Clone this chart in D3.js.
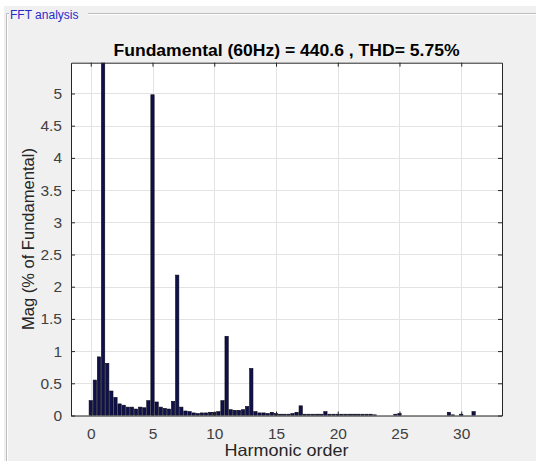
<!DOCTYPE html>
<html>
<head>
<meta charset="utf-8">
<script src="https://cdn.jsdelivr.net/npm/d3@7"></script>
<style>
  html, body { margin: 0; padding: 0; background: #ffffff; }
  svg { display: block; }
  text { font-family: "Liberation Sans", Arial, Helvetica, sans-serif; }
</style>
</head>
<body>
<svg id="chart" width="536" height="461"></svg>
<script>
// Spectrum bins are 20 Hz wide, i.e. one third of a harmonic order (60 Hz fundamental).
const binsPerHarmonic = 3;

// Magnitude of each bin in % of the fundamental, starting at DC.
const magnitude = [
  0.23, 0.55, 0.91, 100.0, 0.81, 0.38, 0.28, 0.18, 0.16, 0.13,   // 0 .. 3
  0.13, 0.10, 0.13, 0.12, 0.23, 4.98, 0.21, 0.13, 0.11, 0.10,    // 3.33 .. 6.33
  0.22, 2.18, 0.13, 0.07, 0.06, 0.04, 0.03, 0.04, 0.04, 0.05,    // 6.67 .. 9.67
  0.05, 0.06, 0.23, 1.23, 0.09, 0.08, 0.08, 0.09, 0.14, 0.73,    // 10 .. 13
  0.06, 0.04, 0.04, 0.03, 0.05, 0.03, 0.02, 0.02, 0.02, 0.03,    // 13.33 .. 16.33
  0.05, 0.15, 0.02, 0.02, 0.02, 0.02, 0.02, 0.06, 0.02, 0.02,    // 16.67 .. 19.67
  0.02, 0.02, 0.02, 0.02, 0.02, 0.02, 0.02, 0.02, 0.02, 0.01,    // 20 .. 23
  0.00, 0.00, 0.00, 0.00, 0.02, 0.03, 0.00, 0.00, 0.00, 0.00,    // 23.33 .. 26.33
  0.00, 0.00, 0.00, 0.00, 0.00, 0.00, 0.00, 0.05, 0.01, 0.00,    // 26.67 .. 29.67
  0.02, 0.00, 0.00, 0.06, 0.00, 0.00, 0.00, 0.00, 0.00, 0.00     // 30 .. 33
];

const xTicks = [0, 5, 10, 15, 20, 25, 30];
const yTicks = [0, 0.5, 1, 1.5, 2, 2.5, 3, 3.5, 4, 4.5, 5];
const xDomain = [-1.6, 33.3];
const yDomain = [0, 5.478];

const panelLabel = "FFT analysis";
const titleText = "Fundamental (60Hz) = 440.6 , THD= 5.75%";
const xLabel = "Harmonic order";
const yLabel = "Mag (% of Fundamental)";

const W = 536, H = 461;
const plot = { left: 71, right: 502, top: 62.7, bottom: 415.5 };

const svg = d3.select("#chart");

// Window background and etched group-box frame
svg.append("rect").attr("x", 0).attr("y", 0).attr("width", W).attr("height", H).attr("fill", "#ffffff");
svg.append("rect").attr("x", 4).attr("y", 6).attr("width", W - 4).attr("height", H - 6).attr("fill", "#f0f0f0");

const frame = svg.append("g").attr("fill", "none");
const framePath = (o) => `M${88} ${13.5 + o} H${W} M${9} ${13.5 + o} H${6.5 + o} V${H}`;
frame.append("path").attr("d", framePath(0)).attr("stroke", "#bdbdbd").attr("stroke-width", 1);
frame.append("path").attr("d", framePath(1)).attr("stroke", "#ffffff").attr("stroke-width", 1);

svg.append("text")
  .attr("x", 10).attr("y", 18.5)
  .attr("font-size", 12)
  .attr("fill", "#2a2ac8")
  .text(panelLabel);

// Scales
const x = d3.scaleLinear().domain(xDomain).range([plot.left, plot.right]);
const y = d3.scaleLinear().domain(yDomain).range([plot.bottom, plot.top]);

// Axes area
svg.append("rect")
  .attr("x", plot.left).attr("y", plot.top)
  .attr("width", plot.right - plot.left).attr("height", plot.bottom - plot.top)
  .attr("fill", "#ffffff");

// Grid
const grid = svg.append("g").attr("stroke", "#e3e3e3").attr("stroke-width", 1);
grid.selectAll("line.gx").data(xTicks).join("line")
  .attr("x1", d => Math.round(x(d)) + 0.5).attr("x2", d => Math.round(x(d)) + 0.5)
  .attr("y1", plot.top).attr("y2", plot.bottom);
grid.selectAll("line.gy").data(yTicks).join("line")
  .attr("y1", d => Math.round(y(d)) + 0.5).attr("y2", d => Math.round(y(d)) + 0.5)
  .attr("x1", plot.left).attr("x2", plot.right);

// Bars, clipped to the axes box
svg.append("clipPath").attr("id", "plotClip")
  .append("rect")
  .attr("x", plot.left).attr("y", plot.top)
  .attr("width", plot.right - plot.left).attr("height", plot.bottom - plot.top);

const bins = magnitude.map((v, i) => ({ order: i / binsPerHarmonic, value: v }));
const barW = x(0.8 / binsPerHarmonic) - x(0);

svg.append("g").attr("clip-path", "url(#plotClip)")
  .selectAll("rect").data(bins).join("rect")
  .attr("x", d => x(d.order) - barW / 2)
  .attr("width", barW)
  .attr("y", d => y(d.value))
  .attr("height", d => Math.max(0, y(0) - y(d.value)))
  .attr("fill", "#10104a")
  .attr("stroke", "#050514")
  .attr("stroke-width", 0.6);

// Axes (box with inward ticks on all four sides)
const axisColor = "#262626";
const tickLen = 4;

const bottomAxis = d3.axisBottom(x).tickValues(xTicks).tickSizeInner(-tickLen).tickSizeOuter(0).tickPadding(12).tickFormat(d3.format("d"));
const leftAxis = d3.axisLeft(y).tickValues(yTicks).tickSizeInner(-tickLen).tickSizeOuter(0).tickPadding(9).tickFormat(d => String(d));
const topAxis = d3.axisTop(x).tickValues(xTicks).tickSizeInner(-tickLen).tickSizeOuter(0).tickFormat("");
const rightAxis = d3.axisRight(y).tickValues(yTicks).tickSizeInner(-tickLen).tickSizeOuter(0).tickFormat("");

function styleAxis(g) {
  g.select(".domain").attr("stroke", axisColor).attr("stroke-width", 1);
  g.selectAll(".tick line").attr("stroke", axisColor);
  g.selectAll(".tick text")
    .attr("fill", "#404040")
    .attr("font-family", "'Liberation Sans', Arial, sans-serif")
    .attr("font-size", 15.5);
}

svg.append("g").attr("transform", `translate(0,${plot.bottom})`).call(bottomAxis).call(styleAxis);
svg.append("g").attr("transform", `translate(${plot.left},0)`).call(leftAxis).call(styleAxis);
svg.append("g").attr("transform", `translate(0,${plot.top})`).call(topAxis).call(styleAxis);
svg.append("g").attr("transform", `translate(${plot.right},0)`).call(rightAxis).call(styleAxis);

// Title and axis labels
svg.append("text")
  .attr("x", (plot.left + plot.right) / 2).attr("y", 56)
  .attr("text-anchor", "middle")
  .attr("font-size", 16)
  .attr("font-weight", "bold")
  .attr("fill", "#000000")
  .attr("textLength", 346)
  .attr("lengthAdjust", "spacingAndGlyphs")
  .text(titleText);

svg.append("text")
  .attr("x", (plot.left + plot.right) / 2).attr("y", 456)
  .attr("text-anchor", "middle")
  .attr("font-size", 16.5)
  .attr("fill", "#262626")
  .attr("textLength", 124)
  .attr("lengthAdjust", "spacingAndGlyphs")
  .text(xLabel);

svg.append("text")
  .attr("transform", `translate(34,${(plot.top + plot.bottom) / 2}) rotate(-90)`)
  .attr("text-anchor", "middle")
  .attr("font-size", 16.5)
  .attr("fill", "#262626")
  .attr("textLength", 182)
  .attr("lengthAdjust", "spacingAndGlyphs")
  .text(yLabel);
</script>
</body>
</html>
